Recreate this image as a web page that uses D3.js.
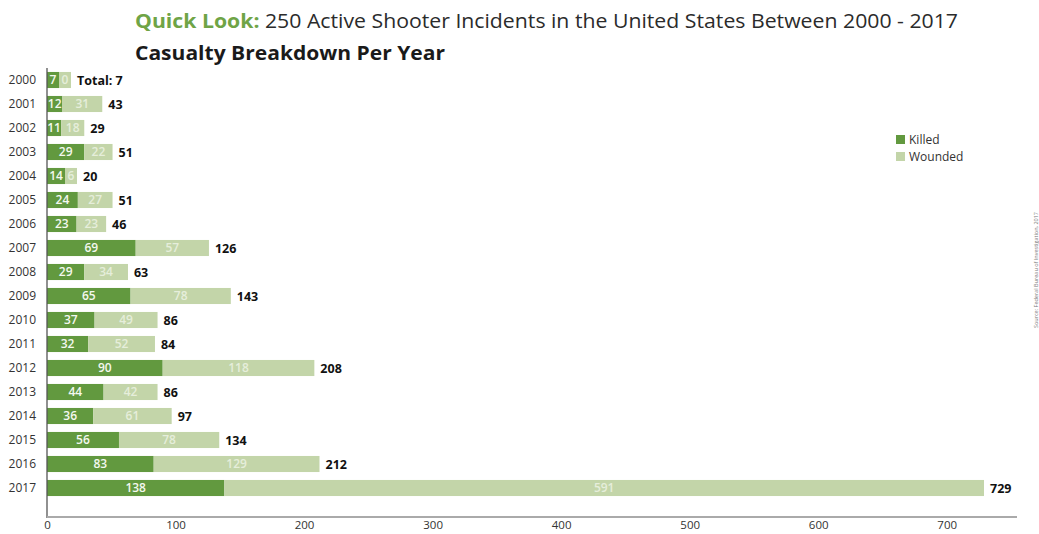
<!DOCTYPE html>
<html><head><meta charset="utf-8">
<script src="https://cdn.jsdelivr.net/npm/d3@7/dist/d3.min.js"></script>
<style>body{margin:0;background:#fff}svg{display:block;font-family:"Open Sans",sans-serif}</style>
</head><body><svg id="c" width="1039" height="534"></svg>
<script>
const years = ["2000","2001","2002","2003","2004","2005","2006","2007","2008","2009","2010","2011","2012","2013","2014","2015","2016","2017"];
const killed = [7,12,11,29,14,24,23,69,29,65,37,32,90,44,36,56,83,138];
const wounded = [0,31,18,22,6,27,23,57,34,78,49,52,118,42,61,78,129,591];
const totals = [7,43,29,51,20,51,46,126,63,143,86,84,208,86,97,134,212,729];
const xTicks = [0,100,200,300,400,500,600,700];
const seriesNames = ["Killed","Wounded"];
const colors = {Killed:"#62993f", Wounded:"#c3d5a9"};

const svg = d3.select("#c");
const x = d3.scaleLinear().domain([0,729]).range([47,984]);
const y = d3.scaleBand().domain(years).range([68,68+18*24]).paddingInner(0.33).paddingOuter(0.165);
const minW = 12;

// titles
const t1 = svg.append("text").attr("x",135).attr("y",28).attr("font-size",20)
  .attr("textLength",823).attr("lengthAdjust","spacingAndGlyphs").attr("fill","#2b2b2b");
t1.append("tspan").attr("font-weight","bold").attr("fill","#6fa446").text("Quick Look:");
t1.append("tspan").text(" 250 Active Shooter Incidents in the United States Between 2000 - 2017");
svg.append("text").attr("x",135).attr("y",60).attr("font-size",20).attr("font-weight","bold")
  .attr("textLength",310).attr("lengthAdjust","spacingAndGlyphs").attr("fill","#1a1a1a")
  .text("Casualty Breakdown Per Year");

// bars
const rows = years.map((yr,i)=>{
  const kw = Math.max(x(killed[i])-x(0), minW);
  const ww = Math.max(x(wounded[i])-x(0), minW);
  return {yr, k:killed[i], w:wounded[i], t:totals[i], kw, ww};
});
const g = svg.append("g");
rows.forEach((r,i)=>{
  const y0 = y(r.yr), bh = y.bandwidth(), cy = y0+bh/2;
  g.append("rect").attr("x",x(0)).attr("y",y0).attr("width",r.kw).attr("height",bh).attr("fill",colors.Killed);
  g.append("rect").attr("x",x(0)+r.kw).attr("y",y0).attr("width",r.ww).attr("height",bh).attr("fill",colors.Wounded);
  g.append("text").attr("x",x(0)+r.kw/2).attr("y",cy).attr("dy","0.36em").attr("text-anchor","middle")
    .attr("font-size",12).attr("font-weight",600).attr("fill","#f4f8ef").text(r.k);
  g.append("text").attr("x",x(0)+r.kw+r.ww/2).attr("y",cy).attr("dy","0.36em").attr("text-anchor","middle")
    .attr("font-size",12).attr("font-weight",600).attr("fill","#e6eedb").text(r.w);
  g.append("text").attr("x",x(0)+r.kw+r.ww+6).attr("y",cy).attr("dy","0.36em")
    .attr("font-size",12.5).attr("font-weight","bold").attr("fill","#111")
    .text(i===0 ? "Total: "+r.t : r.t);
  g.append("text").attr("x",36).attr("y",cy).attr("dy","0.36em").attr("text-anchor","end")
    .attr("font-size",12).attr("fill","#333").text(r.yr);
});

// axes
svg.append("line").attr("x1",47).attr("x2",47).attr("y1",68).attr("y2",518).attr("stroke","#555").attr("stroke-width",1.3);
const xa = svg.append("g").attr("transform","translate(0,517)")
  .call(d3.axisBottom(x).tickValues(xTicks).tickSize(0).tickPadding(4));
xa.select(".domain").remove();
xa.selectAll("text").attr("font-size",11.5).attr("fill","#333").attr("font-family","Open Sans, sans-serif");
svg.append("line").attr("x1",47).attr("x2",1017).attr("y1",517).attr("y2",517).attr("stroke","#aaa").attr("stroke-width",2);

// legend
const lg = svg.append("g");
seriesNames.forEach((s,i)=>{
  lg.append("rect").attr("x",896).attr("y",135+i*17).attr("width",9).attr("height",9).attr("fill",colors[s]);
  lg.append("text").attr("x",909).attr("y",144+i*17).attr("font-size",12).attr("fill","#333").text(s);
});

// source
svg.append("text").attr("transform","translate(1038,270) rotate(-90)").attr("text-anchor","middle")
  .attr("font-size",5.5).attr("fill","#777").text("Source: Federal Bureau of Investigation, 2017");
</script></body></html>
